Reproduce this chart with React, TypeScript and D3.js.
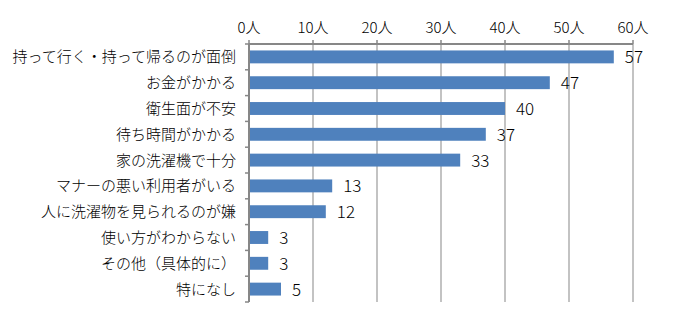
import React from "react";
import * as d3 from "d3";

const categories = [
  "持って行く・持って帰るのが面倒",
  "お金がかかる",
  "衛生面が不安",
  "待ち時間がかかる",
  "家の洗濯機で十分",
  "マナーの悪い利用者がいる",
  "人に洗濯物を見られるのが嫌",
  "使い方がわからない",
  "その他（具体的に）",
  "特になし",
];
const values = [57, 47, 40, 37, 33, 13, 12, 3, 3, 5];
const ticks = [0, 10, 20, 30, 40, 50, 60];

export default function App() {
  const W = 675, H = 325;
  const x0 = 249, x1 = 633, yTop = 44, yBot = 302;
  const x = d3.scaleLinear().domain([0, 60]).range([x0, x1]);
  const y = d3.scaleBand<string>().domain(categories).range([yTop, yBot]).paddingInner(0.5).paddingOuter(0.25);
  const outer = d3.scaleBand<string>().domain(categories).range([yTop, yBot]);
  const font = "'Noto Sans CJK JP', sans-serif";
  const axisColor = "#878787";
  return (
    <svg width={W} height={H} style={{ position: "absolute", left: 0, top: 0, background: "#fff" }}>
      {ticks.map((t) => (
        <g key={t}>
          {t > 0 && <line x1={x(t)} x2={x(t)} y1={yTop} y2={yBot} stroke={axisColor} strokeWidth={1} />}
          <line x1={x(t)} x2={x(t)} y1={yTop - 4} y2={yTop} stroke={axisColor} strokeWidth={1.5} />
          <text x={x(t)} y={33} textAnchor="middle" fontFamily={font} fontSize={15} fontWeight={300} fill="#000">
            {t}人
          </text>
        </g>
      ))}
      <line x1={x0} x2={x1} y1={yTop} y2={yTop} stroke={axisColor} strokeWidth={2} />
      {categories.map((c, i) => {
        const cy = (y(c) as number) + y.bandwidth() / 2;
        return (
          <g key={c}>
            <rect x={x0} y={y(c)} width={x(values[i]) - x0} height={y.bandwidth()} fill="#4f81bd" />
            <text x={x(values[i]) + 11} y={cy + 6.5} fontFamily={font} fontSize={17} fontWeight={300} fill="#000">
              {values[i]}
            </text>
            <text x={236} y={cy + 5.5} textAnchor="end" fontFamily={font} fontSize={15} fontWeight={300} fill="#000">
              {c}
            </text>
          </g>
        );
      })}
      {categories.map((c) => (
        <line key={"t" + c} x1={x0 - 4} x2={x0} y1={(outer(c) as number) + outer.bandwidth()} y2={(outer(c) as number) + outer.bandwidth()} stroke={axisColor} strokeWidth={1.5} />
      ))}
      <line x1={x0 - 4} x2={x0} y1={yTop} y2={yTop} stroke={axisColor} strokeWidth={1.5} />
      <line x1={x0} x2={x0} y1={yTop} y2={yBot} stroke={axisColor} strokeWidth={2} />
    </svg>
  );
}
